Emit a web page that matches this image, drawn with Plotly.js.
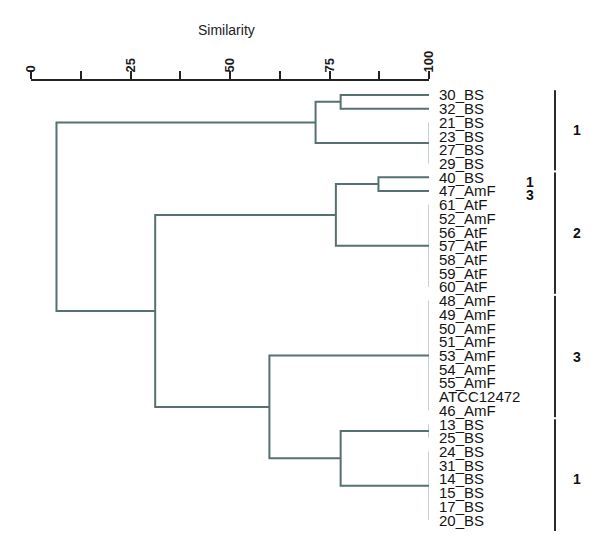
<!DOCTYPE html>
<html>
<head>
<meta charset="utf-8">
<script src="https://cdn.plot.ly/plotly-3.0.1.min.js"></script>
<style>html,body{margin:0;padding:0;background:#fff;}#chart{width:600px;height:551px;}</style>
</head>
<body>
<div id="chart"></div>
<script>
// Leaves, top to bottom
var leaves = ["30_BS","32_BS","21_BS","23_BS","27_BS","29_BS",
  "40_BS","47_AmF","61_AtF","52_AmF","56_AtF","57_AtF","58_AtF","59_AtF","60_AtF",
  "48_AmF","49_AmF","50_AmF","51_AmF","53_AmF","54_AmF","55_AmF","ATCC12472","46_AmF",
  "13_BS","25_BS","24_BS","31_BS","14_BS","15_BS","17_BS","20_BS"];

// Groups of identical profiles (similarity 100): first and last leaf row
var identFirst = [2, 8, 15, 24, 26];
var identLast  = [5, 14, 23, 25, 31];
var identNames = ["B","E","G","H","I"];

// Merges: name, left child, right child, similarity (%)
// children: a number = leaf row, a string = cluster name
var mergeNames = ["A","C","D","F","J","K","L","M"];
var mergeLeft  = [0,  "A", 6,  "D", "H", "G", "F", "C"];
var mergeRight = [1,  "B", 7,  "E", "I", "J", "K", "L"];
var mergeSim   = [77.8, 71.5, 87.3, 76.6, 77.8, 59.9, 31.2, 6.4];

// Cluster labels on the right
var groupLabels = ["1","2","3","1"];
var groupFirst  = [0, 6, 15, 24];
var groupLast   = [5, 14, 23, 31];
var sideLabels  = ["1","3"];
var sideRows    = [6, 7];

// ---- build the dendrogram geometry from the data ----
var nodes = {};
var thinX = [], thinY = [];
for (var i = 0; i < identNames.length; i++) {
  nodes[identNames[i]] = {x: 100, y: (identFirst[i] + identLast[i]) / 2};
  thinX.push(100, 100, null);
  thinY.push(identFirst[i], identLast[i], null);
}
function getNode(c) {
  if (typeof c === "number") return {x: 100, y: c};
  return nodes[c];
}
var lx = [], ly = [];
for (var m = 0; m < mergeNames.length; m++) {
  var a = getNode(mergeLeft[m]), b = getNode(mergeRight[m]), s = mergeSim[m];
  lx.push(a.x, s, s, b.x, null);
  ly.push(a.y, a.y, b.y, b.y, null);
  nodes[mergeNames[m]] = {x: s, y: (a.y + b.y) / 2};
}

var traces = [
  {type: "scatter", mode: "lines", x: thinX, y: thinY, hoverinfo: "skip",
   line: {color: "#8fa3a3", width: 1}, showlegend: false},
  {type: "scatter", mode: "lines", x: lx, y: ly, hoverinfo: "skip",
   line: {color: "#577070", width: 2}, showlegend: false}
];

var annotations = [];
for (var k = 0; k < leaves.length; k++) {
  annotations.push({xref: "paper", yref: "y", x: 1.02, y: k, text: leaves[k],
    showarrow: false, xanchor: "left", yanchor: "middle",
    font: {family: "Liberation Sans, Arial, sans-serif", size: 15, color: "#151515"}});
}
var shapes = [];
for (var g = 0; g < groupLabels.length; g++) {
  var y0 = groupFirst[g] - 0.35, y1 = groupLast[g] + 0.5;
  if (g === groupLabels.length - 1) y1 = groupLast[g] + 1.4;
  shapes.push({type: "line", xref: "paper", yref: "y", x0: 1.3166, x1: 1.3166,
    y0: y0, y1: y1, line: {color: "#2a2a2a", width: 2}});
  annotations.push({xref: "paper", yref: "y", x: 1.372, y: (y0 + y1) / 2,
    text: "<b>" + groupLabels[g] + "</b>", showarrow: false, xanchor: "center", yanchor: "middle",
    font: {family: "Liberation Sans, Arial, sans-serif", size: 14, color: "#111"}});
}
for (var q = 0; q < sideLabels.length; q++) {
  annotations.push({xref: "paper", yref: "y", x: 1.254, y: sideRows[q] + 0.33,
    text: "<b>" + sideLabels[q] + "</b>", showarrow: false, xanchor: "center", yanchor: "middle",
    font: {family: "Liberation Sans, Arial, sans-serif", size: 14, color: "#111"}});
}
annotations.push({xref: "paper", yref: "paper", x: 0.49, y: 1, yshift: 51,
  text: "Similarity", showarrow: false, xanchor: "center", yanchor: "middle",
  font: {family: "Liberation Sans, Arial, sans-serif", size: 14, color: "#222"}});

var layout = {
  width: 600, height: 551,
  margin: {l: 31, r: 171, t: 81, b: 20, pad: 0},
  paper_bgcolor: "#fff", plot_bgcolor: "#fff",
  showlegend: false,
  xaxis: {
    side: "top", range: [0, 100], tickvals: [0, 25, 50, 75, 100],
    ticktext: ["0", "25", "50", "75", "100"], tickangle: -90,
    ticks: "outside", ticklen: 4, tickwidth: 2, tickcolor: "#222",
    showline: true, linecolor: "#222", linewidth: 2,
    showgrid: false, zeroline: false,
    minor: {dtick: 12.5, tick0: 0, ticks: "outside", ticklen: 8, tickwidth: 2, tickcolor: "#222", showgrid: false},
    tickfont: {family: "Liberation Sans, Arial, sans-serif", size: 13, color: "#1a1a1a", weight: "bold"}
  },
  yaxis: {range: [31.8, -1.02], visible: false, showgrid: false, zeroline: false},
  shapes: shapes,
  annotations: annotations
};

Plotly.newPlot("chart", traces, layout, {staticPlot: true, displayModeBar: false});
</script>
</body>
</html>
